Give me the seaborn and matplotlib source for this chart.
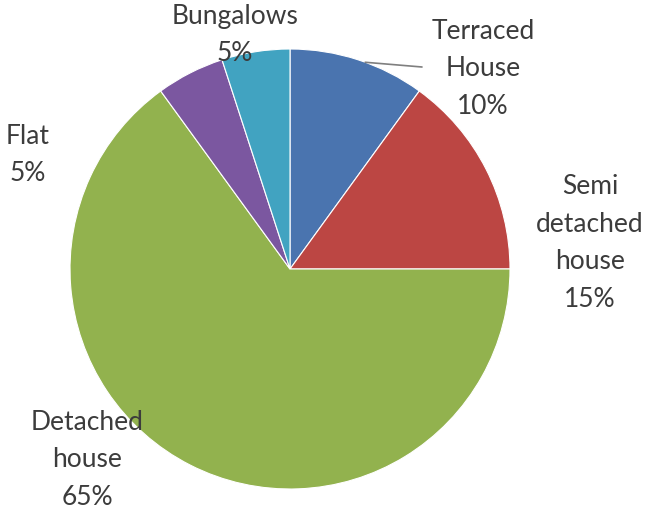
import numpy as np
import matplotlib
matplotlib.use("Agg")
import matplotlib.pyplot as plt
import seaborn as sns

# Share of housing by type (percent)
categories = ["Terraced\nHouse", "Semi\ndetached\nhouse", "Detached\nhouse", "Flat", "Bungalows"]
shares = [10, 15, 65, 5, 5]
colors = ["#4A74AF", "#BC4643", "#92B24E", "#7B57A0", "#41A3C1"]

sns.set_style("white")
plt.rcParams["font.family"] = ["Lato", "DejaVu Sans"]

W, H = 647, 510
fig = plt.figure(figsize=(W / 100, H / 100), dpi=100)
ax = fig.add_axes([0, 0, 1, 1])

cx, cy, r = 290, H - 270, 220
wedges, _ = ax.pie(
    shares,
    colors=sns.color_palette(colors),
    startangle=90,
    counterclock=False,
    center=(cx, cy),
    radius=r,
    frame=True,
    wedgeprops=dict(edgecolor="white", linewidth=0.8),
)
ax.set_xlim(0, W)
ax.set_ylim(0, H)
ax.set_aspect("equal")
ax.axis("off")

# label anchor points (pixel coordinates from top-left)
label_pos = [(483, 69), (590, 243), (87, 460), (28, 155), (235, 35)]
text_kw = dict(ha="center", va="center", fontsize=19, color="#3c3c3c",
               linespacing=1.62)
for name, val, (lx, ly) in zip(categories, shares, label_pos):
    ax.text(lx, H - ly, f"{name}\n{val}%", **text_kw)

# leader line for the first wedge
w0 = wedges[0]
mid = np.deg2rad((w0.theta1 + w0.theta2) / 2 - 2)
px, py = cx + r * np.cos(mid), cy + r * np.sin(mid)
ax.plot([px, 422], [py, H - 68], color="#7f7f7f", lw=1.2)

fig.savefig("out.png", dpi=100)
